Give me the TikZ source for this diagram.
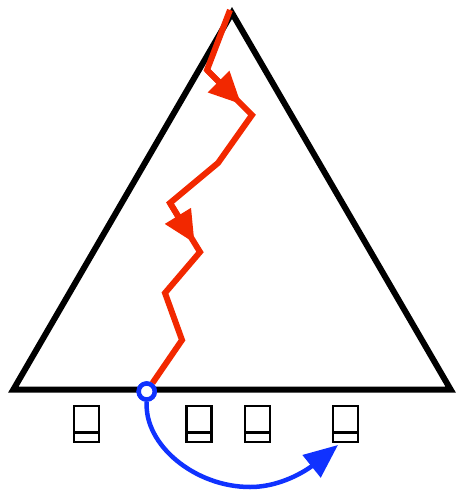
\documentclass[tikz,border=0pt]{standalone}
\usetikzlibrary{arrows.meta,calc}
\definecolor{pathred}{RGB}{242,40,0}
\definecolor{pathblue}{RGB}{16,50,255}
\tikzset{
  edgeline/.style={line width=6pt, black, line join=miter},
  redpath/.style={line width=6pt, pathred, line join=miter},
  redtip/.style={pathred, line width=6pt, -{Triangle[length=32pt,width=29pt]}},
  bluepath/.style={line width=4.5pt, pathblue, -{Triangle[length=34pt,width=28pt]}},
  startmark/.style={circle, draw=pathblue, fill=white, line width=4.5pt, minimum size=16pt, inner sep=0pt},
  tofu/.style={draw, line width=2.5pt, minimum width=25pt, minimum height=36pt, inner sep=0pt,
    path picture={\draw[line width=2.5pt] ([yshift=9.6pt]path picture bounding box.south west) -- ([yshift=9.6pt]path picture bounding box.south east);}}
}
\begin{document}
\begin{tikzpicture}[x=1pt,y=-1pt]
\useasboundingbox (0,0) rectangle (456,491);
% triangle
\coordinate (A) at (232,13);
\coordinate (B) at (13.4,389.5);
\coordinate (C) at (450.6,389.5);
\draw[edgeline] (A) -- (B) -- (C) -- cycle;
% red random path
\coordinate (P0) at (230,10);
\coordinate (P1) at (207,70);
\coordinate (P2) at (252,115);
\coordinate (P3) at (218,163);
\coordinate (P4) at (170,203);
\coordinate (P5) at (200,252);
\coordinate (P6) at (165,293);
\coordinate (P7) at (182,340);
\node[startmark] (S) at (146.7,391.5) {};
\draw[redpath] (P0) -- (P1) -- (P2) -- (P3) -- (P4) -- (P5) -- (P6) -- (P7) -- (S);
\draw[redtip] (P1) -- ($(P1)!0.76!(P2)$);
\draw[redtip] (P4) -- ($(P4)!0.82!(P5)$);
\node[startmark] (S2) at (S) {};
% labels
\node[tofu] (b1) at (86.7,424) {};
\node[tofu] (b2) at (198.8,424) {};
\node[tofu] (b3) at (257.5,424) {};
\node[tofu] (b4) at (345.5,424) {};
% blue arc
\coordinate (E) at (338,445);
\draw[bluepath] (S2.south) .. controls (144,445) and (195,487) .. (250,487) .. controls (285,487) and (312,466) .. (E);
\end{tikzpicture}
\end{document}
